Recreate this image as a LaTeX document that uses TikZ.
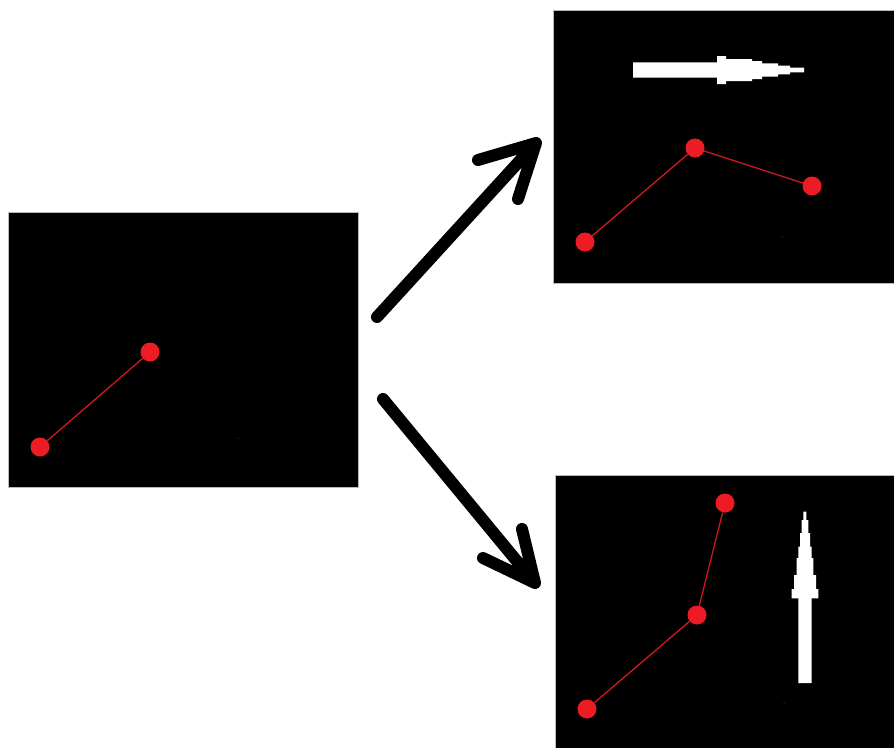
\documentclass[tikz,border=0pt]{standalone}
\usetikzlibrary{positioning}
\definecolor{dotred}{HTML}{ED1C24}
\definecolor{linered}{HTML}{D01820}
\definecolor{specblue}{HTML}{101060}
\begin{document}
\begin{tikzpicture}[x=1pt,y=-1pt,
  panel/.style={draw=gray!55,line width=0.8pt,fill=black,rectangle,inner sep=0pt,anchor=north west},
  reddot/.style={circle,fill=dotred,inner sep=0pt,minimum size=19pt},
  redlink/.style={draw=linered,line width=1.3pt},
  bigarrow/.style={line width=12pt,line cap=round,line join=round,black},
  whitearrow/.style={fill=white,draw=none}]
\useasboundingbox (0,0) rectangle (894,747);
\fill[white] (0,0) rectangle (894,747);
% panels
\node[panel,minimum width=350pt,minimum height=275pt] (left) at (8,212) {};
\node[panel,minimum width=345pt,minimum height=273pt] (topright) at (553,10) {};
\node[panel,minimum width=343pt,minimum height=275pt] (botright) at (555,475) {};
% left panel dots
\node[reddot] (l1) at (40,447) {};
\node[reddot] (l2) at (150,352) {};
\draw[redlink] (l1) -- (l2);
\fill[specblue] (238,438) circle (1pt);
% top right
\node[reddot] (t1) at (585,242) {};
\node[reddot] (t2) at (695,148) {};
\node[reddot] (t3) at (812,186) {};
\draw[redlink] (t1) -- (t2) -- (t3);
\fill[specblue] (782,237) circle (1pt);
\fill[whitearrow] (633,62.3) -- (717,62.3) -- (717,56) -- (726,56) -- (726,59) -- (752,59) -- (752,61) -- (762,61) -- (762,63.3) -- (778,63.3) -- (778,65.7) -- (790,65.7) -- (790,67.7) -- (804,67.7)
  -- (804,72.3) -- (790,72.3) -- (790,74.3) -- (778,74.3) -- (778,76.7) -- (762,76.7) -- (762,79) -- (752,79) -- (752,81) -- (726,81) -- (726,84) -- (717,84) -- (717,77.7) -- (633,77.7) -- cycle;
% bottom right
\node[reddot] (b1) at (587,709) {};
\node[reddot] (b2) at (697,615) {};
\node[reddot] (b3) at (725,503) {};
\draw[redlink] (b1) -- (b2) -- (b3);
\fill[specblue] (784,703) circle (1pt);
\fill[whitearrow] (798.3,683) -- (798.3,598.3) -- (791.7,598.3) -- (791.7,589) -- (794,589) -- (794,575) -- (796.7,575) -- (796.7,558) -- (798.3,558) -- (798.3,546.7) -- (800,546.7) -- (800,533) -- (801.7,533) -- (801.7,520) -- (803.3,520) -- (803.3,511.7)
  -- (806.3,511.7) -- (806.3,520) -- (808.3,520) -- (808.3,533) -- (810,533) -- (810,546.7) -- (811.7,546.7) -- (811.7,558) -- (813.3,558) -- (813.3,575) -- (816,575) -- (816,589) -- (818.3,589) -- (818.3,598.3) -- (811.7,598.3) -- (811.7,683) -- cycle;
% black arrows
\coordinate (uA) at (377,317);
\coordinate (uB) at (536,143);
\coordinate (uC) at (478,160);
\coordinate (uD) at (518,199);
\draw[bigarrow] (uA) -- (uB) (uC) -- (uB) -- (uD);
\coordinate (dA) at (383,399);
\coordinate (dB) at (535,583);
\coordinate (dC) at (483,558);
\coordinate (dD) at (522,529);
\draw[bigarrow] (dA) -- (dB) (dC) -- (dB) -- (dD);
\end{tikzpicture}
\end{document}
